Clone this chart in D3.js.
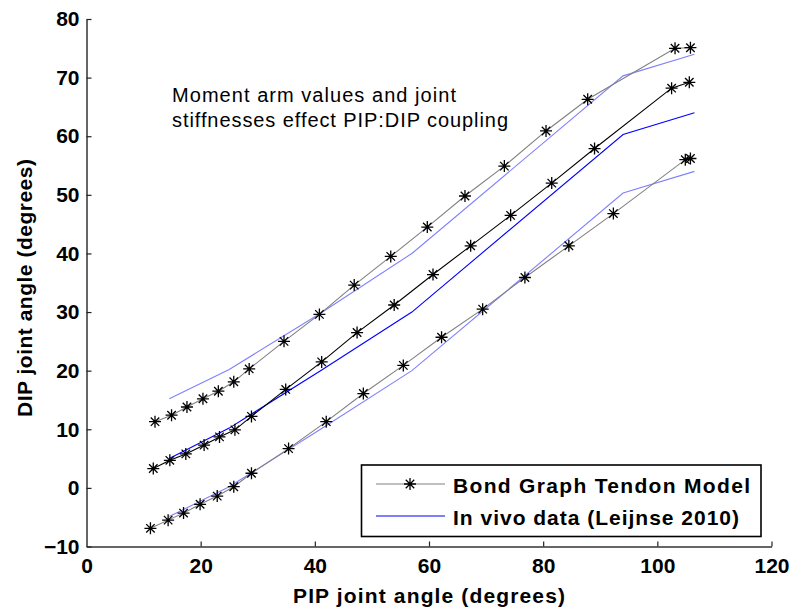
<!DOCTYPE html>
<html>
<head>
<meta charset="utf-8">
<script src="https://cdn.jsdelivr.net/npm/d3@7"></script>
<style>
  html, body { margin: 0; padding: 0; background: #fff; }
  svg { display: block; }
  text { font-family: "Liberation Sans", Arial, sans-serif; }
</style>
</head>
<body>
<svg id="chart" width="790" height="608"></svg>
<script>
// PIP / DIP joint angles (degrees), bond graph tendon model, three coupling cases
const pipUpper = [12.0, 14.9, 17.6, 20.4, 23.1, 25.8, 28.5, 34.6, 40.8, 46.9, 53.3, 59.7, 66.3, 73.2, 80.5, 87.8, 103.1, 105.8];
const dipUpper = [11.3, 12.4, 13.8, 15.2, 16.5, 18.1, 20.3, 25.0, 29.6, 34.6, 39.5, 44.5, 49.8, 54.9, 60.9, 66.3, 75.0, 75.1];
const pipMiddle = [11.7, 14.6, 17.4, 20.6, 23.3, 26.0, 28.9, 34.9, 41.2, 47.4, 53.9, 60.7, 67.3, 74.3, 81.5, 89.0, 102.5, 105.6];
const dipMiddle = [3.3, 4.7, 5.8, 7.3, 8.7, 9.9, 12.2, 16.8, 21.5, 26.5, 31.2, 36.4, 41.3, 46.5, 52.0, 57.9, 68.2, 69.2];
const pipLower = [11.2, 14.3, 17.0, 19.9, 22.9, 25.8, 28.9, 35.4, 42.0, 48.5, 55.5, 62.2, 69.4, 76.8, 84.5, 92.3, 104.9, 105.8];
const dipLower = [-6.9, -5.5, -4.3, -2.8, -1.4, 0.2, 2.5, 6.7, 11.3, 16.1, 20.9, 25.7, 30.5, 35.9, 41.3, 46.8, 56.0, 56.2];

// In vivo measurements (Leijnse 2010) and the same curve shifted up / down
const pipVivo = [14.5, 25.0, 41.0, 57.0, 94.0, 106.5];
const vivoUpper = [15.2, 20.2, 29.8, 40.0, 70.3, 74.0];
const vivoMiddle = [5.0, 10.2, 20.0, 30.0, 60.3, 64.0];
const vivoLower = [-4.9, 0.2, 10.0, 20.0, 50.3, 54.0];

const xTicks = [0, 20, 40, 60, 80, 100, 120];
const yTicks = [-10, 0, 10, 20, 30, 40, 50, 60, 70, 80];

const legendLabels = ["Bond Graph Tendon Model", "In vivo data (Leijnse 2010)"];
const noteLines = ["Moment arm values and joint", "stiffnesses effect PIP:DIP coupling"];

const svg = d3.select("#chart");

const x = d3.scaleLinear().domain([0, 120]).range([86.5, 771.5]);
const y = d3.scaleLinear().domain([-10, 80]).range([546.5, 19]);

const zip = (xs, ys) => xs.map((v, i) => [v, ys[i]]);
const line = d3.line().x(d => x(d[0])).y(d => y(d[1]));

// Axes: left and bottom only, ticks pointing into the plot
const xAxis = svg.append("g")
  .attr("transform", `translate(0,${y(-10)})`)
  .call(d3.axisBottom(x).tickValues(xTicks).tickSizeInner(-5).tickSizeOuter(0).tickPadding(12));
const yAxis = svg.append("g")
  .attr("transform", `translate(${x(0)},0)`)
  .call(d3.axisLeft(y).tickValues(yTicks).tickSizeInner(-5).tickSizeOuter(0).tickPadding(7));

[xAxis, yAxis].forEach(g => {
  g.select(".domain").attr("stroke", "#333").attr("stroke-width", 1.5);
  g.selectAll(".tick line").attr("stroke", "#222").attr("stroke-width", 1.2);
  g.selectAll(".tick text")
    .attr("fill", "#000")
    .style("font-family", "'Liberation Sans', Arial, sans-serif")
    .style("font-size", "21px")
    .style("font-weight", "bold");
});
xAxis.selectAll(".tick text").attr("dy", "0.71em");
xAxis.selectAll(".tick").filter(d => d === 0).select("line").remove();

// In vivo curves
const vivo = [
  { data: zip(pipVivo, vivoUpper), color: "#8080ff" },
  { data: zip(pipVivo, vivoMiddle), color: "#0000ff" },
  { data: zip(pipVivo, vivoLower), color: "#8080ff" }
];
svg.append("g").selectAll("path").data(vivo).join("path")
  .attr("d", d => line(d.data))
  .attr("fill", "none")
  .attr("stroke", d => d.color)
  .attr("stroke-width", 1.1);

// Model curves
const model = [
  { data: zip(pipUpper, dipUpper), color: "#808080" },
  { data: zip(pipMiddle, dipMiddle), color: "#000000" },
  { data: zip(pipLower, dipLower), color: "#808080" }
];
svg.append("g").selectAll("path").data(model).join("path")
  .attr("d", d => line(d.data))
  .attr("fill", "none")
  .attr("stroke", d => d.color)
  .attr("stroke-width", 1.1);

// Asterisk marker
const R = 6;
const starPath = (cx, cy) => {
  const d = R * Math.SQRT1_2;
  return `M${cx - R},${cy}H${cx + R}M${cx},${cy - R}V${cy + R}` +
         `M${cx - d},${cy - d}L${cx + d},${cy + d}M${cx - d},${cy + d}L${cx + d},${cy - d}`;
};
const allPoints = model.flatMap(m => m.data);
svg.append("g").selectAll("path").data(allPoints).join("path")
  .attr("d", d => starPath(x(d[0]), y(d[1])))
  .attr("fill", "none")
  .attr("stroke", "#000")
  .attr("stroke-width", 1.3);

// Annotation
const note = svg.append("text")
  .attr("x", 172)
  .attr("fill", "#000")
  .style("font-size", "20px");
note.selectAll("tspan").data(noteLines).join("tspan")
  .attr("x", 172)
  .attr("y", (d, i) => 102 + i * 24.5)
  .attr("textLength", (d, i) => [284, 336][i])
  .attr("lengthAdjust", "spacing")
  .text(d => d);

// Legend
const lg = svg.append("g");
lg.append("rect")
  .attr("x", 361.5).attr("y", 465)
  .attr("width", 399.5).attr("height", 71.5)
  .attr("fill", "#fff")
  .attr("stroke", "#000")
  .attr("stroke-width", 1.6);
const legendItems = [
  { label: legendLabels[0], color: "#808080", marker: true, yy: 484, width: 297 },
  { label: legendLabels[1], color: "#0000ff", marker: false, yy: 516, width: 286 }
];
legendItems.forEach(it => {
  lg.append("line")
    .attr("x1", 376).attr("x2", 445)
    .attr("y1", it.yy).attr("y2", it.yy)
    .attr("stroke", it.color).attr("stroke-width", 1.1);
  if (it.marker) {
    lg.append("path").attr("d", starPath(410, it.yy))
      .attr("fill", "none").attr("stroke", "#000").attr("stroke-width", 1.3);
  }
  lg.append("text")
    .attr("x", 453).attr("y", it.yy + 9)
    .attr("fill", "#000")
    .attr("textLength", it.width)
    .attr("lengthAdjust", "spacing")
    .style("font-size", "21px")
    .style("font-weight", "bold")
    .text(it.label);
});

// Axis titles
svg.append("text")
  .attr("x", x(60)).attr("y", 603)
  .attr("text-anchor", "middle")
  .attr("textLength", 272).attr("lengthAdjust", "spacing")
  .style("font-size", "21px").style("font-weight", "bold")
  .text("PIP joint angle (degrees)");
svg.append("text")
  .attr("transform", "translate(32,288) rotate(-90)")
  .attr("text-anchor", "middle")
  .attr("textLength", 258).attr("lengthAdjust", "spacing")
  .style("font-size", "21px").style("font-weight", "bold")
  .text("DIP joint angle (degrees)");
</script>
</body>
</html>
